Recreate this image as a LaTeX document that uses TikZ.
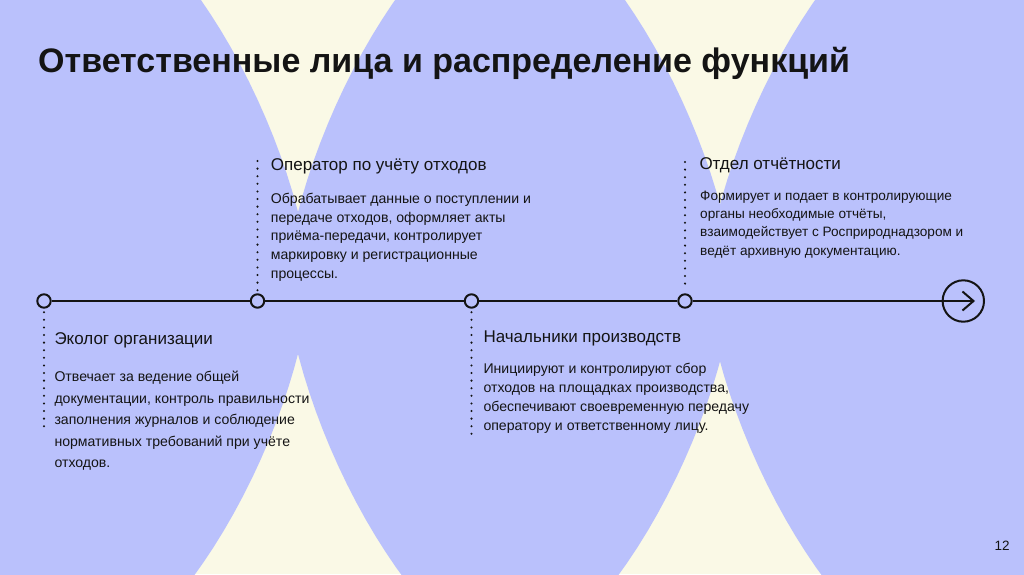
\documentclass[tikz,border=0pt]{standalone}
\usepackage{fontspec}
\setmainfont{Liberation Sans}
\usetikzlibrary{arrows.meta}
\definecolor{lav}{HTML}{BAC1FC}
\definecolor{cream}{HTML}{FAF9E6}
\definecolor{ink}{HTML}{141414}
\tikzset{
  tdot/.style={circle, draw=ink, line width=2pt, fill=lav, minimum size=13.4pt, inner sep=0pt},
  bigdot/.style={circle, draw=ink, line width=2pt, minimum size=41.4pt, inner sep=0pt},
  tline/.style={draw=ink, line width=2pt},
  dotline/.style={draw=ink, line width=2.3pt, line cap=round, dash pattern=on 0pt off 7.6pt},
  hdtext/.style={anchor=base west, inner sep=0pt, font=\fontsize{17}{20}\selectfont, text=ink},
  bdtext/.style={anchor=base west, inner sep=0pt, font=\fontsize{14.1}{20}\selectfont, text=ink},
  titletext/.style={anchor=base west, inner sep=0pt, font=\bfseries\fontsize{34}{40}\selectfont, text=ink},
}
\newcommand\blk[2]{\vtop{\baselineskip=#1pt\relax #2}}
\begin{document}
\begin{tikzpicture}[x=1pt,y=-1pt]
\useasboundingbox (0,0) rectangle (1024,574);
\begin{scope}
\clip (0,0) rectangle (1024,574);
\fill[cream] (0,0) rectangle (1024,574);
\foreach \cx in {86,510,930}{
  \fill[lav] plot[domain=1:361, samples=121, variable=\t]
    ({\cx + 224*cos(\t)*pow(abs(cos(\t)),1/3)}, {283 + 384*sin(\t)*pow(abs(sin(\t)),1/3)}) -- cycle;
}
\end{scope}

\node[titletext] (title) at (38,72) {Ответственные лица и распределение функций};

% timeline
\node[tdot] (c1) at (44,301) {};
\node[tdot] (c2) at (257.5,301) {};
\node[tdot] (c3) at (471.5,301) {};
\node[tdot] (c4) at (685,301) {};
\node[bigdot] (endc) at (963.3,301) {};
\coordinate (tip) at (975,301);
\draw[tline] (c1) -- (c2);
\draw[tline] (c2) -- (c3);
\draw[tline] (c3) -- (c4);
\draw[tline, -{Straight Barb[length=11pt, width=19pt]}] (c4) -- (tip);

% dotted leaders
\coordinate (b1) at (44,433);
\coordinate (t2) at (257.5,161);
\coordinate (b3) at (471.5,435);
\coordinate (t4) at (685,162);
\draw[dotline] ([yshift=-3.5pt]c1.south) -- (b1);
\draw[dotline] (t2) -- ([yshift=3pt]c2.north);
\draw[dotline] ([yshift=-3.5pt]c3.south) -- (b3);
\draw[dotline] (t4) -- ([yshift=3pt]c4.north);

% headings
\node[hdtext] (h1) at (54.3,344) {Эколог организации};
\node[hdtext] (h2) at (270.7,170.7) {Оператор по учёту отходов};
\node[hdtext] (h3) at (483.3,342.3) {Начальники производств};
\node[hdtext] (h4) at (699.3,169) {Отдел отчётности};

% bodies
\node[bdtext] (p1) at (54.3,381.7) {\blk{21.5}{\hbox{Отвечает за ведение общей}\hbox{документации, контроль правильности}\hbox{заполнения журналов и соблюдение}\hbox{нормативных требований при учёте}\hbox{отходов.}}};
\node[bdtext] (p2) at (270.7,203.3) {\blk{18.75}{\hbox{Обрабатывает данные о поступлении и}\hbox{передаче отходов, оформляет акты}\hbox{приёма-передачи, контролирует}\hbox{маркировку и регистрационные}\hbox{процессы.}}};
\node[bdtext] (p3) at (483.3,373.3) {\blk{19}{\hbox{Инициируют и контролируют сбор}\hbox{отходов на площадках производства,}\hbox{обеспечивают своевременную передачу}\hbox{оператору и ответственному лицу.}}};
\node[bdtext, font=\fontsize{13.6}{18}\selectfont] (p4) at (700,200) {\blk{18.4}{\hbox{Формирует и подает в контролирующие}\hbox{органы необходимые отчёты,}\hbox{взаимодействует с Росприроднадзором и}\hbox{ведёт архивную документацию.}}};

\node[anchor=base west, inner sep=0pt, font=\fontsize{13.5}{16}\selectfont, text=ink] (pg) at (994.5,550) {12};
\end{tikzpicture}
\end{document}
